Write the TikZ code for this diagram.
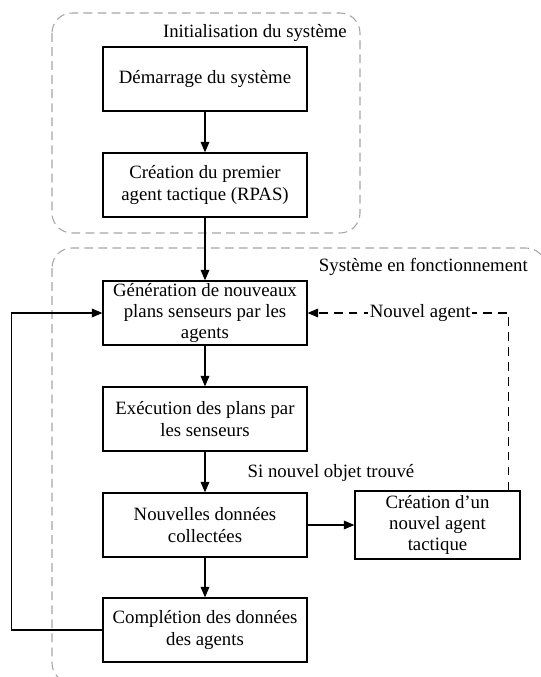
\documentclass[tikz,border=0pt]{standalone}
\usepackage{fontspec}
\setmainfont{Liberation Serif}
\usetikzlibrary{arrows.meta, positioning}
\definecolor{ink}  {HTML}{000000}
\definecolor{frame}{HTML}{A6A6A6}

\begin{document}
\begin{tikzpicture}[x=0.02cm, y=-0.02cm,
    every node/.style={font=\fontsize{10.7}{12.2}\selectfont, text=ink},
    stepbox/.style={draw=ink, line width=0.75pt, align=center,
      minimum width=4.08cm, minimum height=1.28cm,
      inner xsep=2pt, inner ysep=1pt},
    flow/.style={draw=ink, line width=0.6pt, -{Triangle[length=6pt, width=5pt]}},
    zone/.style={draw=frame, line width=0.6pt, dash pattern=on 5pt off 3pt,
      rounded corners=0.4cm}]
    \useasboundingbox (0,0) rectangle (541,677);

    % the two dashed zones, the lower one runs off the page
    \draw[zone] (52,13) rectangle (360,233);
    \draw[zone] (52,248) rectangle (546,683);
    \node[anchor=east] (initlbl) at (353,33) {Initialisation du système};
    \node[anchor=east] (runlbl) at (534,267) {Système en fonctionnement};

    \node[stepbox] (demarrage)  at (205,79)  {Démarrage du système};
    \node[stepbox] (premier)    at (205,185) {Création du premier\\agent tactique (RPAS)};
    \node[stepbox] (generation) at (205,313) {Génération de nouveaux\\plans senseurs par les\\agents};
    \node[stepbox] (execution)  at (205,419) {Exécution des plans par\\les senseurs};
    \node[stepbox] (nouvelles)  at (205,525) {Nouvelles données\\collectées};
    \node[stepbox] (completion) at (205,630) {Complétion des données\\des agents};
    \node[stepbox, minimum width=3.3cm, minimum height=1.36cm] (agent)
      at (437.5,525) {Création d’un\\nouvel agent\\tactique};
    \node (silbl) at (331,473) {Si nouvel objet trouvé};

    \draw[flow] (demarrage) -- (premier);
    \draw[flow] (premier) -- (generation);
    \draw[flow] (generation) -- (execution);
    \draw[flow] (execution) -- (nouvelles);
    \draw[flow] (nouvelles) -- (completion);
    \draw[flow] (nouvelles) -- (agent);
    \draw[flow] (completion.west) -- ++(-91,0) |- (generation.west);
    \draw[flow, dash pattern=on 5pt off 3.5pt] ([xshift=-0.24cm]agent.north east)
      |- node[pos=0.72, fill=white, inner sep=1pt] (newlbl) {Nouvel agent} (generation.east);
\end{tikzpicture}
\end{document}
